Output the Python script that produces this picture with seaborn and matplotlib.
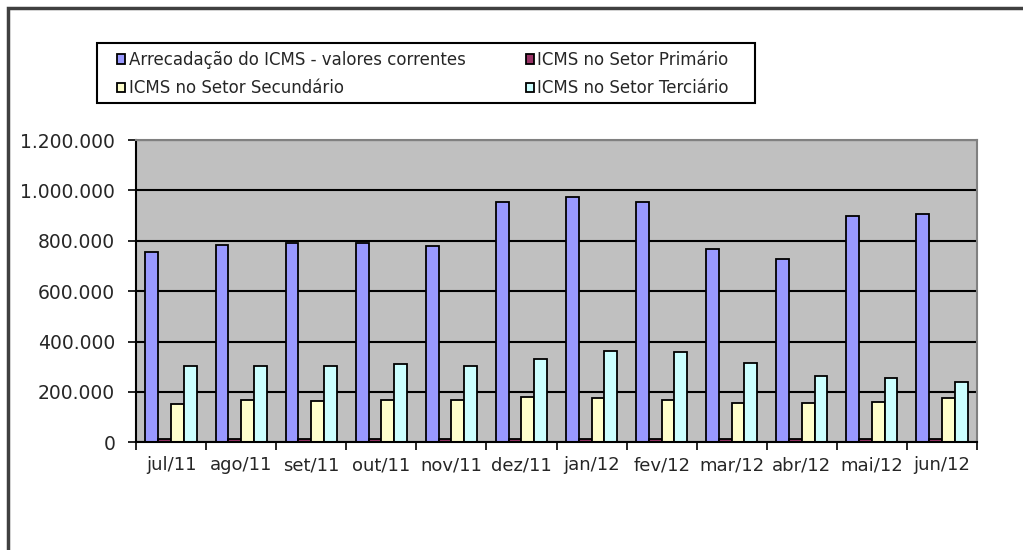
import numpy as np
import pandas as pd
import matplotlib
matplotlib.use("Agg")
import matplotlib.pyplot as plt
import matplotlib.patches as mpatches
from matplotlib.ticker import FuncFormatter, FixedLocator
import seaborn as sns

# Data (R$ mil)
months = ["jul/11", "ago/11", "set/11", "out/11", "nov/11", "dez/11",
          "jan/12", "fev/12", "mar/12", "abr/12", "mai/12", "jun/12"]
total = [756000, 785000, 793000, 792000, 781000, 953000,
         975000, 953000, 768000, 728000, 898000, 907000]
primario = [15000, 15000, 15000, 15000, 15000, 15000,
            15000, 15000, 15000, 15000, 15000, 15000]
secundario = [153000, 169000, 162000, 169000, 169000, 178000,
              176000, 169000, 156000, 156000, 161000, 176000]
terciario = [302000, 301000, 302000, 310000, 301000, 330000,
             363000, 357000, 316000, 265000, 256000, 238000]

series = ["Arrecadação do ICMS - valores correntes", "ICMS no Setor Primário",
          "ICMS no Setor Secundário", "ICMS no Setor Terciário"]
colors = ["#9999FF", "#993366", "#FFFFCC", "#CCFFFF"]

df = pd.DataFrame({
    "mes": months * 4,
    "serie": np.repeat(series, len(months)),
    "valor": total + primario + secundario + terciario,
})

sns.set_style("white")
plt.rcParams["font.family"] = ["DejaVu Sans"]

fig = plt.figure(figsize=(10.23, 5.5), dpi=100)
ax = fig.add_axes([136 / 1023, 1 - 442.3 / 550, 841 / 1023, 302.3 / 550])
ax.set_facecolor("#C0C0C0")

sns.barplot(data=df, x="mes", y="valor", hue="serie", order=months,
            hue_order=series, palette=colors, width=0.73,
            edgecolor="black", linewidth=1.3, saturation=1, ax=ax)

ax.set_ylim(0, 1200000)
ax.set_xlim(-0.5, len(months) - 0.5)
ax.set_yticks(range(0, 1200001, 200000))
ax.yaxis.set_major_formatter(FuncFormatter(lambda v, p: f"{int(v):,}".replace(",", ".")))
ax.yaxis.grid(True, color="black", linewidth=1.5)
ax.set_axisbelow(True)

# tick marks between the groups, labels at the centres
ax.xaxis.set_minor_locator(FixedLocator(np.arange(-0.5, len(months), 1)))
ax.tick_params(axis="x", which="major", length=0, pad=10, labelsize=13)
ax.tick_params(axis="x", which="minor", length=6, width=1.2, color="black", direction="out")
ax.tick_params(axis="y", length=6, width=1.2, color="black", direction="out", pad=9, labelsize=13.5)
ax.tick_params(bottom=True, left=True)
ax.xaxis.set_tick_params(which="minor", bottom=True)
ax.set_xlabel("")
ax.set_ylabel("")

for side in ["left", "bottom"]:
    ax.spines[side].set_color("black")
    ax.spines[side].set_linewidth(1.5)
for side in ["top", "right"]:
    ax.spines[side].set_color("#808080")
    ax.spines[side].set_linewidth(1.5)

# legend: frame drawn as a patch, entries placed inside
handles, labels = ax.get_legend_handles_labels()
ax.get_legend().remove()
order = [0, 2, 1, 3]
fig.legend([handles[i] for i in order], [labels[i] for i in order],
           loc="upper left", bbox_to_anchor=(117 / 1023, 1 - 51 / 550),
           ncol=2, frameon=False, fontsize=12, borderpad=0, borderaxespad=0,
           handlelength=0.5, handleheight=0.5, handletextpad=0.2,
           columnspacing=3.6, labelspacing=0.62)
fig.patches.append(mpatches.Rectangle((97 / 1023, 1 - 103 / 550), 658 / 1023, 60 / 550,
                                      transform=fig.transFigure, fill=False,
                                      edgecolor="black", linewidth=1.5))

# outer chart border (runs off the right and bottom edges)
fig.patches.append(mpatches.Rectangle((8 / 1023, -0.1), 1.2, 1.1 - 8 / 550,
                                      transform=fig.transFigure, fill=False,
                                      edgecolor="#404040", linewidth=2.5))

fig.savefig("out.png", dpi=100)
